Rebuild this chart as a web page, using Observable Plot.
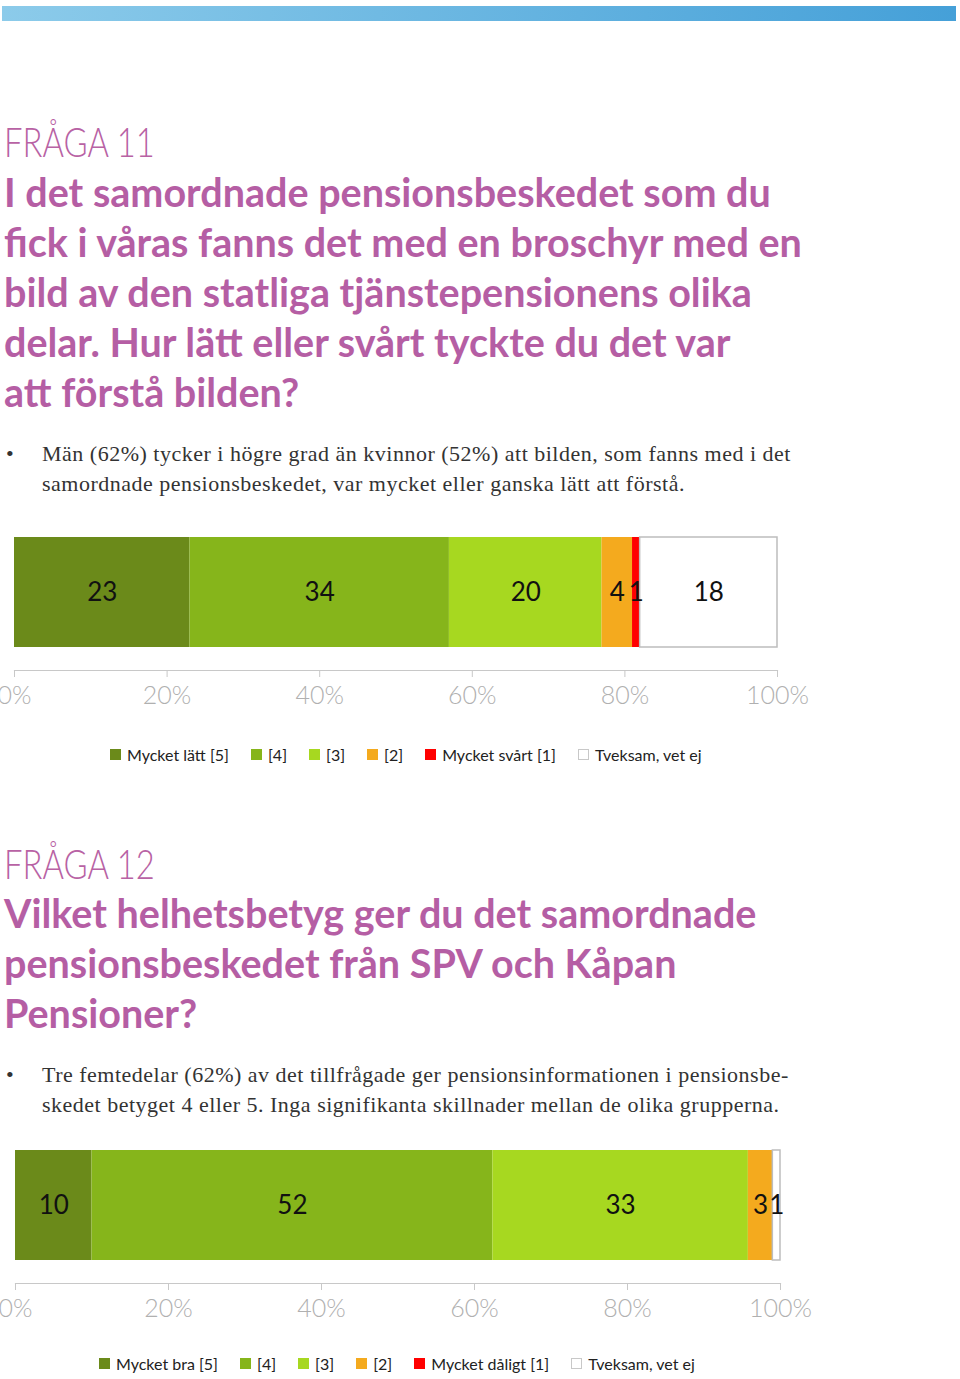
<!DOCTYPE html>
<html><head><meta charset="utf-8">
<script src="https://cdn.jsdelivr.net/npm/d3@7"></script>
<script src="https://cdn.jsdelivr.net/npm/@observablehq/plot@0.6"></script>
<style>
body{margin:0;background:#fff;}
#page{position:relative;width:960px;height:1379px;overflow:hidden;}
.abs{position:absolute;white-space:nowrap;}
.topbar{position:absolute;left:2px;top:6px;width:954px;height:15px;background:linear-gradient(to right,#8ccbea,#45a0d8);}
.kicker{font-family:Lato,sans-serif;font-weight:300;font-size:41px;line-height:50px;color:#b862a4;transform:scaleX(0.8);transform-origin:left center;}
.q{font-family:Lato,sans-serif;font-weight:700;font-size:39.5px;line-height:50px;color:#b55ea4;}
.body{font-family:"Liberation Serif",serif;font-size:22px;line-height:30px;color:#333;letter-spacing:0.5px;}
.legend{position:absolute;display:flex;gap:22px;font-family:Lato,sans-serif;font-size:16px;color:#222;}
.item{display:flex;align-items:center;gap:6px;}
.sw{width:11px;height:11px;box-sizing:border-box;}
.chart{position:absolute;left:0;}
</style></head>
<body>
<div id="page">
  <div class="topbar"></div>

  <div class="abs kicker" style="left:4px;top:117px;">FRÅGA 11</div>
  <div class="abs q" style="left:4px;top:167px;">I det samordnade pensionsbeskedet som du<br>fick i våras fanns det med en broschyr med en<br>bild av den statliga tjänstepensionens olika<br>delar. Hur lätt eller svårt tyckte du det var<br>att förstå bilden?</div>
  <div class="abs body" style="left:6px;top:439px;letter-spacing:0;">•</div>
  <div class="abs body" style="left:42px;top:439px;">Män (62%) tycker i högre grad än kvinnor (52%) att bilden, som fanns med i det<br>samordnade pensionsbeskedet, var mycket eller ganska lätt att förstå.</div>
  <div id="chart1" class="chart" style="top:520px;"></div>
  <div id="legend1" class="legend" style="left:110px;top:745px;"></div>

  <div class="abs kicker" style="left:4px;top:839px;">FRÅGA 12</div>
  <div class="abs q" style="left:4px;top:888px;">Vilket helhetsbetyg ger du det samordnade<br>pensionsbeskedet från SPV och Kåpan<br>Pensioner?</div>
  <div class="abs body" style="left:6px;top:1060px;letter-spacing:0;">•</div>
  <div class="abs body" style="left:42px;top:1060px;">Tre femtedelar (62%) av det tillfrågade ger pensionsinformationen i pensionsbe-<br>skedet betyget 4 eller 5. Inga signifikanta skillnader mellan de olika grupperna.</div>
  <div id="chart2" class="chart" style="top:1133px;"></div>
  <div id="legend2" class="legend" style="left:99px;top:1354px;"></div>
</div>
<script>
// ---- data ----
const categories1 = ["Mycket lätt [5]", "[4]", "[3]", "[2]", "Mycket svårt [1]", "Tveksam, vet ej"];
const values1 = [23, 34, 20, 4, 1, 18];
const labels1 = ["23", "34", "20", "4", "1", "18"];

const categories2 = ["Mycket bra [5]", "[4]", "[3]", "[2]", "Mycket dåligt [1]", "Tveksam, vet ej"];
const values2 = [10, 52.4, 33.4, 3.2, 0, 1];
const labels2 = ["10", "52", "33", "3", "", "1"];

const colors = ["#6b8a1a", "#86b51b", "#a7d820", "#f4aa1e", "#ff0000", "#ffffff"];
const tickValues = [0, 20, 40, 60, 80, 100];

function chart(cats, vals, labels, left, right) {
  const data = cats.map((c, i) => ({cat: c, value: vals[i], label: labels[i], q: "q", last: i === cats.length - 1 ? 1 : 0}));
  return Plot.plot({
    width: 960, height: 200,
    marginLeft: left, marginRight: 960 - right, marginTop: 0, marginBottom: 50,
    style: {overflow: "visible", background: "transparent"},
    x: {domain: [0, 100], axis: null},
    y: {domain: ["q"], range: [17, 127], padding: 0, axis: null},
    color: {domain: cats, range: colors},
    opacity: {domain: [0, 1], range: [0, 1]},
    marks: [
      Plot.barX(data, Plot.stackX({x: "value", y: "q", fill: "cat", order: null})),
      Plot.barX(data, Plot.stackX({x: "value", y: "q", order: null, fill: "none", stroke: "#bdbdbd", strokeWidth: 1.5, strokeOpacity: "last"})),
      Plot.text(data, Plot.stackX({x: "value", y: "q", order: null, text: "label", fill: "#111", fontSize: 26, fontFamily: "Lato, sans-serif"})),
      Plot.frame({anchor: "bottom", stroke: "#c8c8c8", strokeWidth: 1.2}),
      Plot.axisX({ticks: tickValues, tickFormat: d => d + "%", label: null, tickSize: 7, tickPadding: 9, stroke: "#c8c8c8", fill: "#b0b0b0", fontSize: 25, fontFamily: "Lato, sans-serif", fontWeight: 300})
    ]
  });
}

document.getElementById("chart1").append(chart(categories1, values1, labels1, 14, 777));
document.getElementById("chart2").append(chart(categories2, values2, labels2, 15, 780));

function legend(id, cats) {
  const el = document.getElementById(id);
  cats.forEach((c, i) => {
    const item = document.createElement("div");
    item.className = "item";
    const sw = document.createElement("div");
    sw.className = "sw";
    sw.style.background = colors[i];
    if (colors[i] === "#ffffff") sw.style.border = "1px solid #c8c8c8";
    const t = document.createElement("span");
    t.textContent = c;
    item.append(sw, t);
    el.append(item);
  });
}
legend("legend1", categories1);
legend("legend2", categories2);
</script>
</body></html>
